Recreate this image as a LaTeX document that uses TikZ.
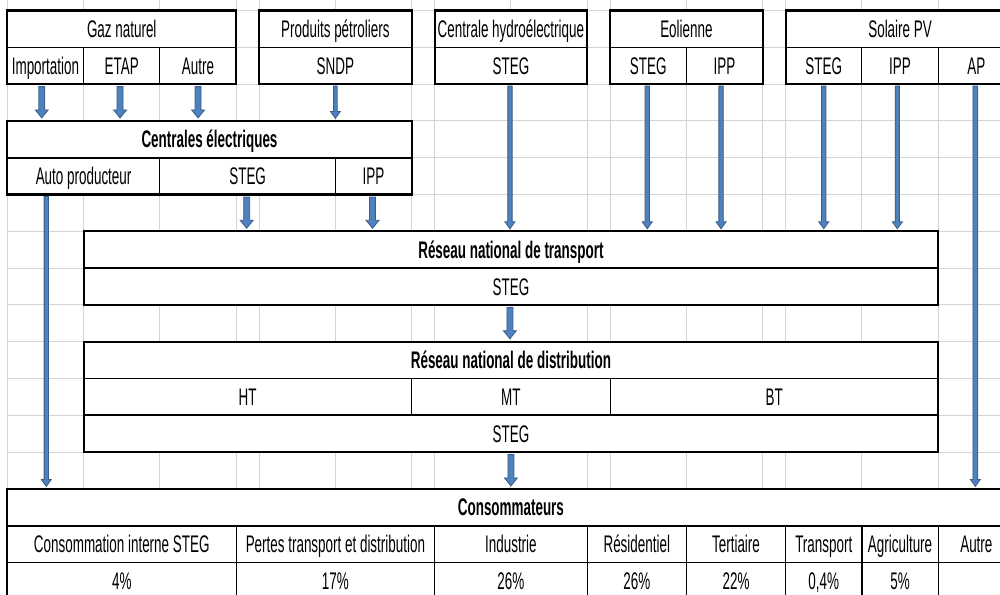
\documentclass[tikz,border=0pt]{standalone}
\usepackage{fontspec}
\setmainfont[FakeStretch=0.56]{Liberation Sans}
\usetikzlibrary{calc}
\definecolor{gridc}{HTML}{D4D4D4}
\definecolor{arrfill}{HTML}{4F81BD}
\definecolor{arrdraw}{HTML}{385D8A}
% column boundaries (px = pt)
\def\XA{7.3}\def\XB{83.6}\def\XC{159.9}\def\XD{236.2}\def\XE{259.1}\def\XF{335.4}
\def\XG{411.7}\def\XH{434.6}\def\XI{510.9}\def\XJ{587.2}\def\XK{610.1}\def\XL{686.4}
\def\XM{762.7}\def\XN{785.6}\def\XO{861.9}\def\XP{938.2}\def\XQ{1014.5}
\newcommand\cellnode[6]{\node[cellbox,#6,minimum width={#3-#2},minimum height=36.8] (#1) at ({(#2+#3)/2},{10.5+36.8*(#4-0.5)}) {#5};}
\newcommand\blockarrow[5]{\filldraw[arrowst] let \p1=#1, \p2=#2 in (\x1-#3,\y1) -- (\x1-#3,\y2+#5) -- (\x1-#4,\y2+#5) -- (\x1,\y2) -- (\x1+#4,\y2+#5) -- (\x1+#3,\y2+#5) -- (\x1+#3,\y1) -- cycle;}
\begin{document}
\begin{tikzpicture}[x=1pt,y=-1pt,
 cellbox/.style={draw=black,line width=1pt,fill=white,inner sep=0pt,outer sep=0pt,text height=17pt,text depth=0pt,font=\fontsize{24}{28}\selectfont},
 hdr/.style={font=\fontsize{24}{28}\selectfont\bfseries},
 gridline/.style={draw=gridc,line width=1pt},
 frame/.style={draw=black,line width=2.2pt},
 hsep/.style={draw=black,line width=1.8pt},
 lsep/.style={draw=black,line width=1.4pt},
 vsep/.style={draw=black,line width=1.4pt},
 arrowst/.style={fill=arrfill,draw=arrdraw,line width=0.8pt}]
\useasboundingbox (0,0) rectangle (1000,594);
\clip (0,0) rectangle (1000,594);
\fill[white] (0,0) rectangle (1000,594);
% spreadsheet grid
\foreach \x in {\XA,\XB,\XC,\XD,\XE,\XF,\XG,\XH,\XI,\XJ,\XK,\XL,\XM,\XN,\XO,\XP}
  \draw[gridline] (\x,0) -- (\x,594);
\foreach \k in {0,...,16}
  \draw[gridline] (\XA,{10.5+36.8*\k}) -- (1000,{10.5+36.8*\k});
% row 1 and 2: sources
\cellnode{gaz}{\XA}{\XD}{1}{Gaz naturel}{}
\cellnode{petro}{\XE}{\XG}{1}{Produits pétroliers}{}
\cellnode{hydro}{\XH}{\XJ}{1}{Centrale hydroélectrique}{}
\cellnode{eol}{\XK}{\XM}{1}{Eolienne}{}
\cellnode{sol}{\XN}{\XQ}{1}{Solaire PV}{}
\cellnode{imp}{\XA}{\XB}{2}{Importation}{}
\cellnode{etap}{\XB}{\XC}{2}{ETAP}{}
\cellnode{autreg}{\XC}{\XD}{2}{Autre}{}
\cellnode{sndp}{\XE}{\XG}{2}{SNDP}{}
\cellnode{hsteg}{\XH}{\XJ}{2}{STEG}{}
\cellnode{esteg}{\XK}{\XL}{2}{STEG}{}
\cellnode{eipp}{\XL}{\XM}{2}{IPP}{}
\cellnode{ssteg}{\XN}{\XO}{2}{STEG}{}
\cellnode{sipp}{\XO}{\XP}{2}{IPP}{}
\cellnode{sap}{\XP}{\XQ}{2}{AP}{}
% centrales
\cellnode{cent}{\XA}{\XG}{4}{Centrales électriques}{hdr}
\cellnode{auto}{\XA}{\XC}{5}{Auto producteur}{}
\cellnode{csteg}{\XC}{\XF}{5}{STEG}{}
\cellnode{cipp}{\XF}{\XG}{5}{IPP}{}
% transport
\cellnode{tr}{\XB}{\XP}{7}{Réseau national de transport}{hdr}
\cellnode{trsteg}{\XB}{\XP}{8}{STEG}{}
% distribution
\cellnode{di}{\XB}{\XP}{10}{Réseau national de distribution}{hdr}
\cellnode{ht}{\XB}{\XG}{11}{HT}{}
\cellnode{mt}{\XG}{\XK}{11}{MT}{}
\cellnode{bt}{\XK}{\XP}{11}{BT}{}
\cellnode{disteg}{\XB}{\XP}{12}{STEG}{}
% consommateurs
\cellnode{conso}{\XA}{\XQ}{14}{Consommateurs}{hdr}
\cellnode{lci}{\XA}{\XD}{15}{Consommation interne STEG}{}
\cellnode{lpe}{\XD}{\XH}{15}{Pertes transport et distribution}{}
\cellnode{lin}{\XH}{\XJ}{15}{Industrie}{}
\cellnode{lre}{\XJ}{\XL}{15}{Résidentiel}{}
\cellnode{lte}{\XL}{\XN}{15}{Tertiaire}{}
\cellnode{ltr}{\XN}{\XO}{15}{Transport}{}
\cellnode{lag}{\XO}{\XP}{15}{Agriculture}{}
\cellnode{lau}{\XP}{\XQ}{15}{Autre}{}
\cellnode{pci}{\XA}{\XD}{16}{4\%}{}
\cellnode{ppe}{\XD}{\XH}{16}{17\%}{}
\cellnode{pin}{\XH}{\XJ}{16}{26\%}{}
\cellnode{pre}{\XJ}{\XL}{16}{26\%}{}
\cellnode{pte}{\XL}{\XN}{16}{22\%}{}
\cellnode{ptr}{\XN}{\XO}{16}{0,4\%}{}
\cellnode{pag}{\XO}{\XP}{16}{5\%}{}
\cellnode{pau}{\XP}{\XQ}{16}{}{}
% frames and separators
\draw[frame] (gaz.north west) rectangle (autreg.south east);
\draw[frame] (petro.north west) rectangle (sndp.south east);
\draw[frame] (hydro.north west) rectangle (hsteg.south east);
\draw[frame] (eol.north west) rectangle (eipp.south east);
\draw[frame] (sol.north west) rectangle (sap.south east);
\draw[lsep] (gaz.south west) -- (gaz.south east);
\draw[lsep] (petro.south west) -- (petro.south east);
\draw[lsep] (hydro.south west) -- (hydro.south east);
\draw[lsep] (eol.south west) -- (eol.south east);
\draw[lsep] (sol.south west) -- (sol.south east);
\draw[frame] (cent.north west) rectangle (cipp.south east);
\draw[hsep] (cent.south west) -- (cent.south east);
\draw[frame] (tr.north west) rectangle (trsteg.south east);
\draw[hsep] (tr.south west) -- (tr.south east);
\draw[frame] (di.north west) rectangle (disteg.south east);
\draw[hsep] (di.south west) -- (di.south east);
\draw[hsep] (ht.south west) -- (bt.south east);
\draw[frame] (conso.north west) rectangle (pau.south east);
\draw[hsep] (conso.south west) -- (conso.south east);
\draw[hsep] (lci.south west) -- (lau.south east);
\foreach \n in {lci,lpe,lin,lre,lte,ltr,lag}
  \draw[vsep] (\n.north east) -- (\n.north east |- pci.south);
% arrows
\blockarrow{($(imp.south)+(-3.7,2.5)$)}{($(cent.north)+(0,-3)$)}{3pt}{6.5pt}{8pt}
\blockarrow{($(etap.south)+(-1.7,2.5)$)}{($(cent.north)+(0,-3)$)}{3pt}{6.5pt}{8pt}
\blockarrow{($(autreg.south)+(0,2.5)$)}{($(cent.north)+(0,-3)$)}{3pt}{6.5pt}{8pt}
\blockarrow{($(sndp.south)+(0,2)$)}{($(cent.north)+(0,-2.5)$)}{1.8pt}{5pt}{7pt}
\blockarrow{($(auto.south west)+(39,2)$)}{($(conso.north)+(0,-2.5)$)}{2.2pt}{5pt}{7pt}
\blockarrow{($(csteg.south)+(-1,2.5)$)}{($(tr.north)+(0,-3)$)}{3pt}{6.5pt}{8pt}
\blockarrow{($(cipp.south)+(-1,2.5)$)}{($(tr.north)+(0,-3)$)}{3pt}{6.5pt}{8pt}
\blockarrow{($(hsteg.south)+(-1,2)$)}{($(tr.north)+(0,-2.5)$)}{2.2pt}{5pt}{7pt}
\blockarrow{($(esteg.south)+(-1,2)$)}{($(tr.north)+(0,-2.5)$)}{2.2pt}{5pt}{7pt}
\blockarrow{($(eipp.south)+(-3.5,2)$)}{($(tr.north)+(0,-2.5)$)}{2.2pt}{5pt}{7pt}
\blockarrow{($(ssteg.south)+(0,2)$)}{($(tr.north)+(0,-2.5)$)}{2.2pt}{5pt}{7pt}
\blockarrow{($(sipp.south)+(-2.7,2)$)}{($(tr.north)+(0,-2.5)$)}{2.2pt}{5pt}{7pt}
\blockarrow{($(sap.south)+(-1,2)$)}{($(conso.north)+(0,-2.5)$)}{2.4pt}{5pt}{7pt}
\blockarrow{($(trsteg.south)+(-1,2.5)$)}{($(di.north)+(0,-3)$)}{3pt}{6.5pt}{8pt}
\blockarrow{($(disteg.south)+(0,2.5)$)}{($(conso.north)+(0,-3)$)}{3pt}{6.5pt}{8pt}
\end{tikzpicture}
\end{document}
